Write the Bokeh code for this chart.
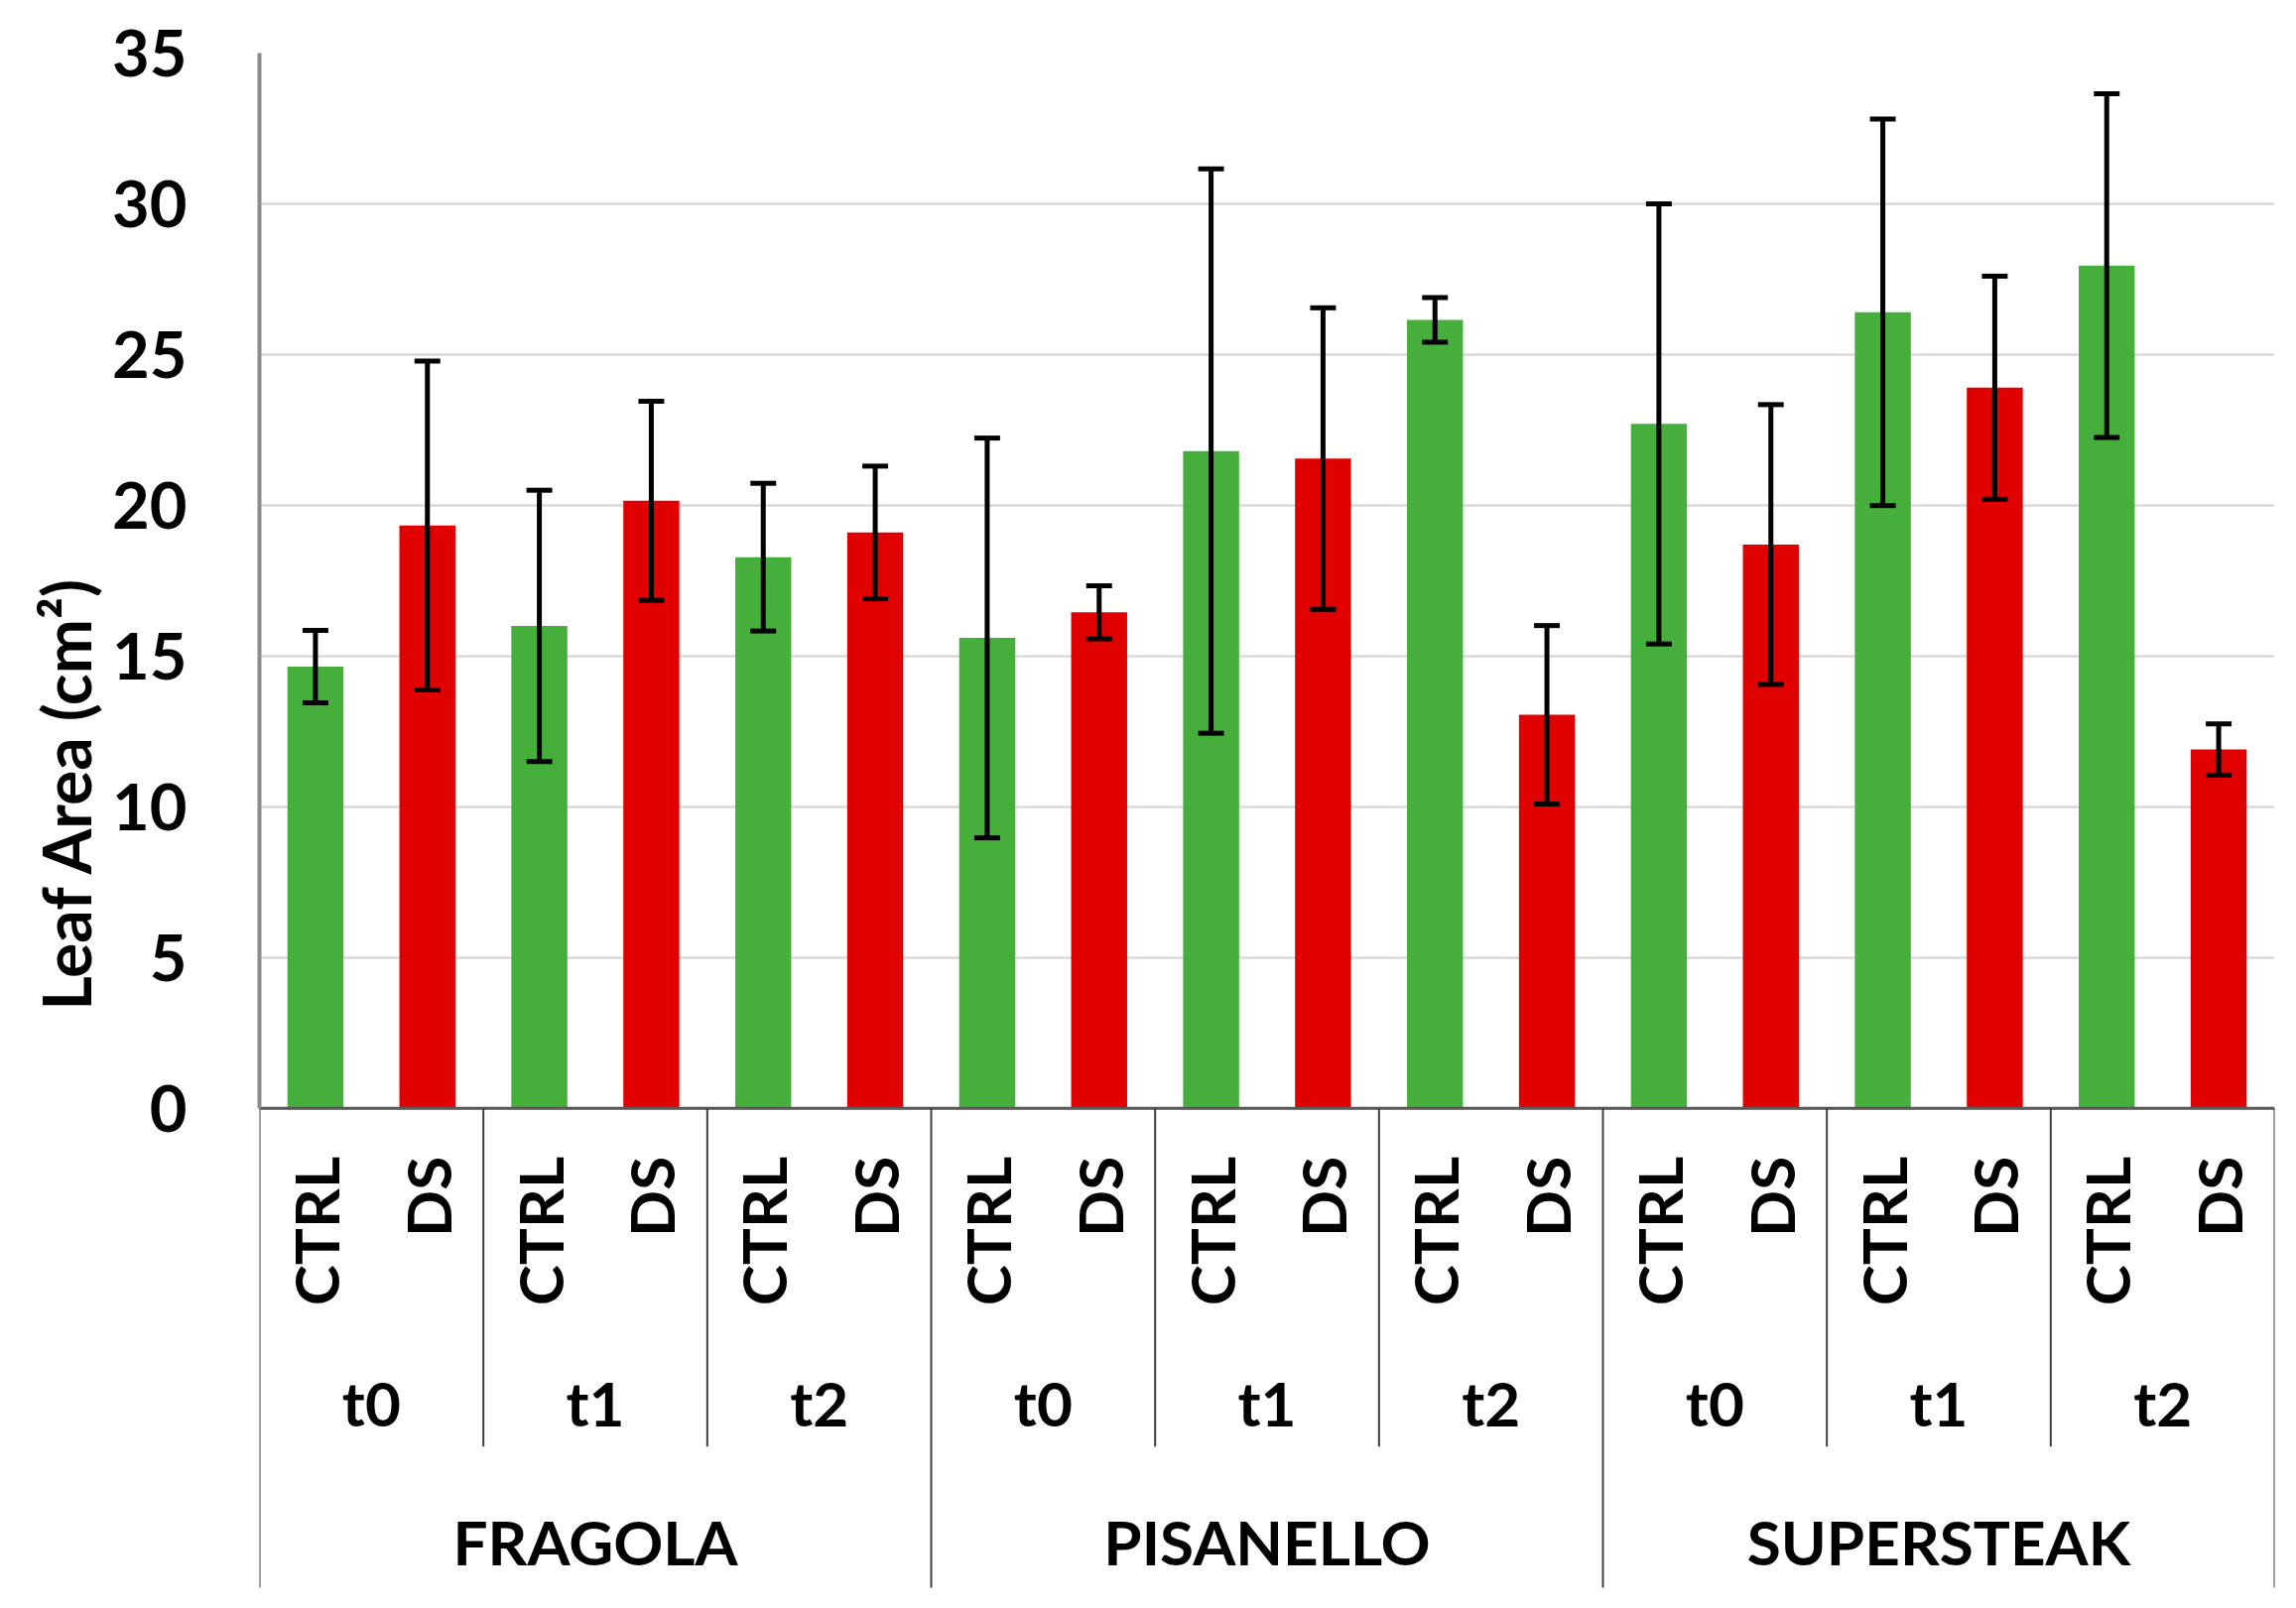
import numpy as np
from bokeh.plotting import figure
from bokeh.models import Range1d, FixedTicker, ColumnDataSource, Title
from bokeh.core.properties import value
from bokeh.embed import file_html
from bokeh.resources import INLINE

# ---------------- data ----------------
varieties = ["FRAGOLA", "PISANELLO", "SUPERSTEAK"]
times = ["t0", "t1", "t2"]
treatments = ["CTRL", "DS"]
leaf_area = [14.65, 19.33, 16.0, 20.15, 18.28, 19.10,
             15.60, 16.45, 21.80, 21.55, 26.15, 13.05,
             22.70, 18.70, 26.40, 23.90, 27.95, 11.90]
leaf_area_err = [1.20, 5.45, 4.50, 3.30, 2.45, 2.20,
                 6.63, 0.88, 9.36, 5.00, 0.74, 2.96,
                 7.30, 4.64, 6.41, 3.70, 5.70, 0.85]
y_ticks = [0, 5, 10, 15, 20, 25, 30, 35]
y_title = "Leaf Area (cm²)"
treatment_colors = {"CTRL": "#46AE3B", "DS": "#E00000"}

# ---------------- layout constants ----------------
FONT = value("Lato")
FS = "62px"
y_top = y_ticks[-1]
y_bottom = -16.0
treat_label_y = -1.6
time_label_y = -9.77
variety_label_y = -14.38
time_sep_bottom = -11.22
variety_sep_bottom = -15.9

n_t = len(treatments)
n_time = len(times)
per_var = n_t * n_time
n_bars = len(varieties) * per_var

rows = []
for vi, v in enumerate(varieties):
    for ti, t in enumerate(times):
        for ki, k in enumerate(treatments):
            rows.append((v, t, k))
xs = [i + 0.5 for i in range(n_bars)]
trts = [r[2] for r in rows]
colors = [treatment_colors[k] for k in trts]
lo = [m - e for m, e in zip(leaf_area, leaf_area_err)]
hi = [m + e for m, e in zip(leaf_area, leaf_area_err)]

p = figure(width=2298, height=1605, output_backend="svg", toolbar_location=None,
           x_range=Range1d(0, n_bars), y_range=Range1d(y_bottom, y_top),
           x_axis_location=None, min_border_left=261, min_border_right=6,
           min_border_top=53, min_border_bottom=2)
p.outline_line_color = None
p.background_fill_color = "white"
p.border_fill_color = "white"
p.xgrid.visible = False

ax = p.yaxis[0]
ax.ticker = FixedTicker(ticks=y_ticks)
ax.bounds = (0, y_top)
ax.axis_line_color = "#8C8C8C"
ax.axis_line_width = 4
ax.major_tick_line_color = None
ax.minor_tick_line_color = None
ax.major_label_standoff = 67
ax.major_label_text_font = "Lato"
ax.major_label_text_font_style = "bold"
ax.major_label_text_font_size = "65px"
ax.major_label_text_color = "black"

# y-axis title as a side title, anchored at its lower end
ttl = Title(text=y_title, align="left", offset=585, vertical_align="bottom",
            text_font="Lato", text_font_style="bold", text_font_size="66px",
            text_color="black")
p.add_layout(ttl, "left")

p.ygrid.grid_line_color = "#D9D9D9"
p.ygrid.grid_line_width = 2.5

# bars
src = ColumnDataSource(dict(x=xs, top=leaf_area, color=colors, lo=lo, hi=hi, trt=trts))
p.vbar(x="x", top="top", bottom=0, width=0.5, fill_color="color", line_color=None, source=src)

# x axis line at 0
p.segment(x0=[0], y0=[0], x1=[n_bars], y1=[0], line_color="#595959", line_width=3)

# error bars
cap = 0.115
p.segment(x0="x", y0="lo", x1="x", y1="hi", line_color="black", line_width=5, source=src)
p.segment(x0=[x - cap for x in xs], y0=hi, x1=[x + cap for x in xs], y1=hi,
          line_color="black", line_width=5)
p.segment(x0=[x - cap for x in xs], y0=lo, x1=[x + cap for x in xs], y1=lo,
          line_color="black", line_width=5)

# separators
sx, sy0, sy1 = [], [], []
for vi in range(len(varieties)):
    for ti in range(1, n_time):
        sx.append(vi * per_var + ti * n_t)
        sy0.append(0)
        sy1.append(time_sep_bottom)
for vi in range(len(varieties) + 1):
    sx.append(vi * per_var)
    sy0.append(0)
    sy1.append(variety_sep_bottom)
p.segment(x0=sx, y0=sy0, x1=sx, y1=sy1, line_color="#3F3F3F", line_width=2)

# treatment labels (rotated)
p.text(x=xs, y=[treat_label_y] * n_bars, text=trts, angle=np.pi / 2,
       text_align="right", text_baseline="middle", text_font=FONT,
       text_font_style="bold", text_font_size=FS, text_color="black")

# time labels
tx, tt = [], []
for vi in range(len(varieties)):
    for ti, t in enumerate(times):
        tx.append(vi * per_var + ti * n_t + n_t / 2)
        tt.append(t)
p.text(x=tx, y=[time_label_y] * len(tx), text=tt, text_align="center",
       text_baseline="middle", text_font=FONT, text_font_style="bold",
       text_font_size=FS, text_color="black")

# variety labels
vx = [vi * per_var + per_var / 2 for vi in range(len(varieties))]
p.text(x=vx, y=[variety_label_y] * len(vx), text=varieties, text_align="center",
       text_baseline="middle", text_font=FONT, text_font_style="bold",
       text_font_size=FS, text_color="black")

open("out.html", "w").write(file_html(p, INLINE))
